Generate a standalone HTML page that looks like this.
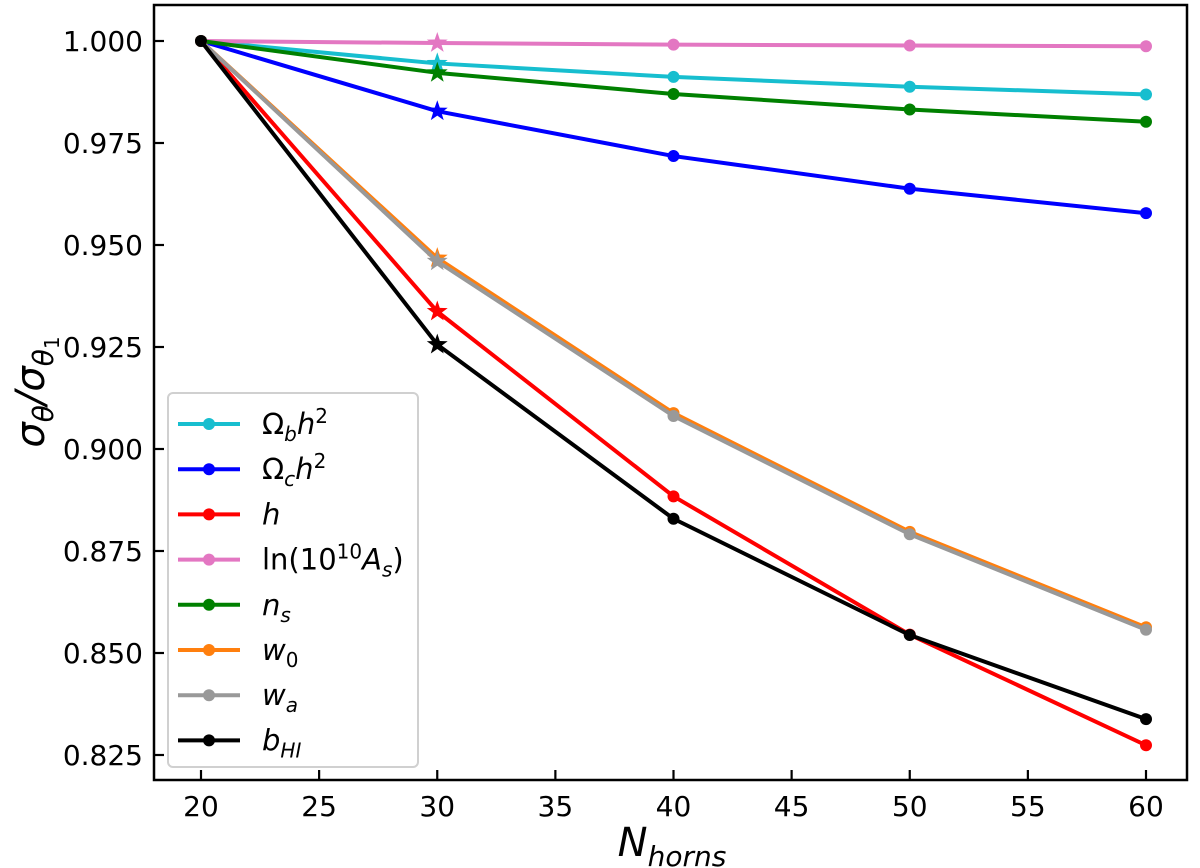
<!DOCTYPE html>
<html><head><meta charset="utf-8"><style>
body{margin:0;background:#fff;}
svg{display:block;font-family:"DejaVu Sans","Liberation Sans",sans-serif;}
</style></head><body>
<svg id="chart" width="1200" height="868">
<g id="series"></g>
<rect x="154" y="5" width="1033" height="775" fill="none" stroke="#000" stroke-width="2.5"/>
<g id="ticks"></g>
<text transform="translate(44,392) rotate(-90)" text-anchor="middle" font-size="40" font-style="italic">σ<tspan font-size="28" dy="9">θ</tspan><tspan dy="-9">/σ</tspan><tspan font-size="28" dy="9">θ</tspan><tspan font-size="20" dy="6" font-style="normal">1</tspan></text>
<text x="672" y="856" text-anchor="middle" font-size="40" font-style="italic">N<tspan font-size="28" dy="10">horns</tspan></text>
<g id="legend">
<rect x="168" y="393" width="250" height="374" rx="5" fill="#fff" fill-opacity="0.85" stroke="#d0d0d0" stroke-width="2"/>
</g>
</svg>
<script>
const xValues=[20,30,40,50,60];
const xTicks=[20,25,30,35,40,45,50,55,60];
const yTicks=[0.825,0.850,0.875,0.900,0.925,0.950,0.975,1.000];
const yTickLabels=["0.825","0.850","0.875","0.900","0.925","0.950","0.975","1.000"];
const seriesNames=["omega-b","omega-c","h","ln-as","n-s","w0","wa","b-hi"];
const seriesColors=["#17becf","#0000ff","#ff0000","#e377c2","#008000","#ff7f0e","#999999","#000000"];
const omegaB=[1,0.9945,0.9912,0.9888,0.9869];
const omegaC=[1,0.9828,0.9718,0.9638,0.9578];
const hVals=[1,0.9337,0.8884,0.8545,0.8274];
const lnAs=[1,0.9995,0.9991,0.9989,0.9987];
const nS=[1,0.9922,0.9870,0.9832,0.9802];
const w0=[1,0.9468,0.9088,0.8797,0.8563];
const wa=[1,0.9460,0.9081,0.8791,0.8557];
const bHI=[1,0.9256,0.8829,0.8544,0.8338];
const allSeries=[omegaB,omegaC,hVals,lnAs,nS,w0,wa,bHI];
const drawOrder=[0,1,2,3,4,5,6,7];
const NS="http://www.w3.org/2000/svg";
const xs=v=>201+(v-20)*23.625;
const ys=v=>41+(1-v)/0.025*102;
function mk(tag,attrs,parent){const e=document.createElementNS(NS,tag);for(const k in attrs)e.setAttribute(k,attrs[k]);parent.appendChild(e);return e;}
const ticks=document.getElementById('ticks');
xTicks.forEach(t=>{
  const l=mk('line',{x1:xs(t),x2:xs(t),y1:780,y2:770,stroke:'#000','stroke-width':2.2},ticks);
  
  
  const tx=mk('text',{x:xs(t),y:816,'text-anchor':'middle','font-size':28},ticks);
  tx.textContent=t;
  
  
});
yTicks.forEach((t,i)=>{
  const l=mk('line',{x1:154,x2:164,y1:ys(t),y2:ys(t),stroke:'#000','stroke-width':2.2},ticks);
  
  
  const tx=mk('text',{x:143,y:ys(t)+10,'text-anchor':'end','font-size':28},ticks);
  tx.textContent=yTickLabels[i];
  
  
});
function star(cx,cy,r){let p=[];for(let i=0;i<10;i++){const rr=i%2?r*0.4:r;const a=-Math.PI/2+i*Math.PI/5;p.push((cx+rr*Math.cos(a)).toFixed(1)+','+(cy+rr*Math.sin(a)).toFixed(1));}return p.join(' ');}
const sg=document.getElementById('series');
drawOrder.forEach(si=>{
  const vals=allSeries[si],c=seriesColors[si];
  const g=mk('g',{},sg);
  
  
  const pl=mk('polyline',{points:vals.map((v,i)=>xs(xValues[i])+','+ys(v)).join(' '),fill:'none',stroke:c,'stroke-width':4,'stroke-linejoin':'round'},g);
  
  
  vals.forEach((v,i)=>{
    let m;
    if(i===1){m=mk('polygon',{points:star(xs(xValues[i]),ys(v),11),fill:c},g);}
    else{m=mk('circle',{cx:xs(xValues[i]),cy:ys(v),r:6,fill:c},g);}
    
    
  });
});
const legendLabels=['Ω<tspan font-style="italic" font-size="20" dy="7">b</tspan><tspan font-style="italic" dy="-7">h</tspan><tspan font-size="20" dy="-11">2</tspan>',
'Ω<tspan font-style="italic" font-size="20" dy="7">c</tspan><tspan font-style="italic" dy="-7">h</tspan><tspan font-size="20" dy="-11">2</tspan>',
'<tspan font-style="italic">h</tspan>',
'ln(10<tspan font-size="20" dy="-11">10</tspan><tspan font-style="italic" dy="11">A</tspan><tspan font-style="italic" font-size="20" dy="7">s</tspan><tspan dy="-7">)</tspan>',
'<tspan font-style="italic">n</tspan><tspan font-style="italic" font-size="20" dy="7">s</tspan>',
'<tspan font-style="italic">w</tspan><tspan font-size="20" dy="7">0</tspan>',
'<tspan font-style="italic">w</tspan><tspan font-style="italic" font-size="20" dy="7">a</tspan>',
'<tspan font-style="italic">b</tspan><tspan font-style="italic" font-size="20" dy="7">HI</tspan>'];
const lg=document.getElementById('legend');
seriesColors.forEach((c,i)=>{
  const y=424+i*45.2;
  const g=mk('g',{},lg);
  
  
  mk('line',{x1:178,x2:240,y1:y,y2:y,stroke:c,'stroke-width':4},g);
  mk('circle',{cx:209,cy:y,r:6,fill:c},g);
  const t=mk('text',{x:262,y:y+10,'font-size':29},g);
  t.innerHTML=legendLabels[i];
});
</script>
</body></html>
